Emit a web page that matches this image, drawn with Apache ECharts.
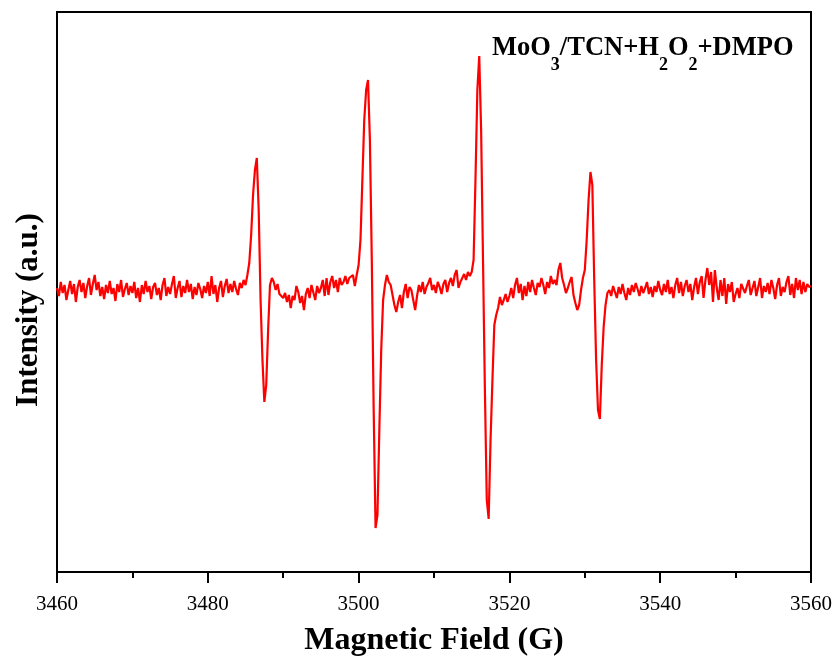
<!DOCTYPE html>
<html>
<head>
<meta charset="utf-8">
<script src="https://cdn.jsdelivr.net/npm/echarts@6/dist/echarts.min.js"></script>
<style>html,body{margin:0;padding:0;background:#fff;}#chart{width:839px;height:664px;}</style>
</head>
<body>
<div id="chart"></div>
<script>
// Field sweep (G): start and step of the recorded sweep
var fieldStart = 3460;
var fieldStep = 0.25;
// Intensity (a.u.), one value per sweep point, 3460 G ... 3560 G
var intensity = [
  2, -6, 8, -3,   5, -10, 0, 9,   -4, 6, -12, 3,   10, -2, 7, -8,
  4, 12, -5, 6,   15, 0, 8, -6,   3, -9, 5, -3,   9, -4, 2, -11,
  6, -2, 10, -7,   1, 7, -5, 4,   -3, 8, -8, 2,   -12, 5, -4, 9,
  -2, 4, -9, 3,   7, -5, 2, -10,   5, 12, -6, 3,   -4, 6, 14, -8,
  2, 9, -7, 4,   -3, 10, -2, 6,   -9, 3, -5, 7,   1, -8, 4, -3,
  8, -6, 14, -4,   5, -12, 2, 9,   -7, 4, 11, -3,   6, -2, 9, 1,
  -5, 7, 2, 10,   5, 15, 27, 55,   95, 120, 132, 80,   -10, -70, -112, -95,
  -40, 5, 12, 8,   0, 6, -4, -2,   -8, -3, -12, -5,   -18, -6, -10, 4,
  -2, -13, -6, -20,   -4, 2, -8, 5,   3, -10, 4, -3,   2, 10, -6, 12,
  -5, 8, 14, 2,   10, -2, 12, 5,   8, 14, 6, 12,   10, 15, 4, 15,
  25, 50, 110, 170,   200, 210, 150, 30,   -120, -238, -225, -140,   -60, -10, 5, 15,
  8, 5, -5, -15,   -22, -12, -5, -18,   -2, 6, -8, 3,   0, -10, -20, -6,
  5, -2, 8, -4,   3, 7, 12, 0,   5, -3, 8, 3,   -4, 6, 10, -2,
  7, 12, 4, 15,   20, 2, 8, 12,   16, 10, 18, 14,   18, 30, 110, 200,
  234, 160, 30, -100,   -210, -229, -150, -90,   -35, -25, -18, -7,   -15, -10, -4, -12,
  -6, 2, -8, 5,   12, -3, 6, -10,   4, -6, 8, -2,   10, 2, -5, 7,
  3, 12, 5, -4,   8, 2, 14, 6,   10, 5, 20, 27,   12, 5, -3, 2,
  8, 13, -5, -13,   -20, -15, 0, 12,   20, 50, 90, 118,   105, 10, -70, -120,
  -129, -75, -37, -15,   -3, 0, -6, 4,   -2, -8, 3, -4,   6, -3, -10, 2,
  -5, 5, -2, 7,   1, -6, 4, -3,   2, 8, -4, 3,   -7, 4, -2, 9,
  0, -5, 6, -2,   10, -4, 3, -8,   5, 12, -3, 8,   -6, 4, 10, -2,
  6, -10, 3, 12,   -4, 8, 14, -8,   10, 22, 5, 18,   -12, 20, 2, -10,
  10, -6, 12, -14,   6, -2, 8, -12,   -4, 2, -8, 6,   8, -3, 4, 10,
  -5, 2, 9, -6,   3, 12, -8, 4,   -2, 7, -4, 10,   2, -9, 5, 12,
  -6, 3, -2, 8,   14, -5, 6, -8,   12, 0, 10, -4,   8, -2, 6, 3,
  4
];
// Axis ticks
var xTicks = [3460, 3480, 3500, 3520, 3540, 3560];
var xTitle = 'Magnetic Field (G)';
var yTitle = 'Intensity (a.u.)';

var seriesData = intensity.map(function (v, i) { return [fieldStart + fieldStep * i, v]; });

var chart = echarts.init(document.getElementById('chart'), null, { renderer: 'canvas' });
var serif = '"Liberation Serif", "Times New Roman", serif';
chart.setOption({
  animation: false,
  backgroundColor: '#ffffff',
  grid: { left: 57, right: 28, top: 12, bottom: 92, show: true, borderColor: '#000', borderWidth: 2, backgroundColor: 'transparent' },
  xAxis: {
    type: 'value',
    min: xTicks[0],
    max: xTicks[xTicks.length - 1],
    interval: 20,
    name: xTitle,
    nameLocation: 'middle',
    nameGap: 53,
    nameTextStyle: { fontFamily: serif, fontWeight: 'bold', fontSize: 32, color: '#000' },
    axisLine: { show: true, onZero: false, lineStyle: { color: '#000', width: 2 } },
    axisTick: { show: true, inside: false, length: 11, lineStyle: { color: '#000', width: 2 } },
    minorTick: { show: true, splitNumber: 2, length: 6, lineStyle: { color: '#000', width: 2 } },
    axisLabel: { fontFamily: serif, fontSize: 21, color: '#000', margin: 22, formatter: function (v) { return String(v); } },
    splitLine: { show: false }
  },
  yAxis: {
    type: 'value',
    min: -282,
    max: 278,
    name: yTitle,
    nameLocation: 'middle',
    nameGap: 13,
    nameTextStyle: { fontFamily: serif, fontWeight: 'bold', fontSize: 31, color: '#000', padding: [0, 36, 0, 0] },
    axisLine: { show: true, onZero: false, lineStyle: { color: '#000', width: 2 } },
    axisTick: { show: false },
    axisLabel: { show: false },
    splitLine: { show: false }
  },
  graphic: [{
    type: 'text',
    left: 492,
    top: 35,
    style: {
      text: '{b|MoO}{s|3}{b|/TCN+H}{s|2}{b|O}{s|2}{b|+DMPO}',
      rich: {
        b: { fontFamily: serif, fontWeight: 'bold', fontSize: 26.5, lineHeight: 30, verticalAlign: 'top', fill: '#000', color: '#000' },
        s: { fontFamily: serif, fontWeight: 'bold', fontSize: 18, lineHeight: 18, verticalAlign: 'top', padding: [21, 0, 0, 0], fill: '#000', color: '#000' }
      }
    }
  }],
  series: [{
    type: 'line',
    data: seriesData,
    showSymbol: false,
    symbol: 'none',
    lineStyle: { color: '#ff0000', width: 2.2 },
    itemStyle: { color: '#ff0000' }
  }]
});
</script>
</body>
</html>
